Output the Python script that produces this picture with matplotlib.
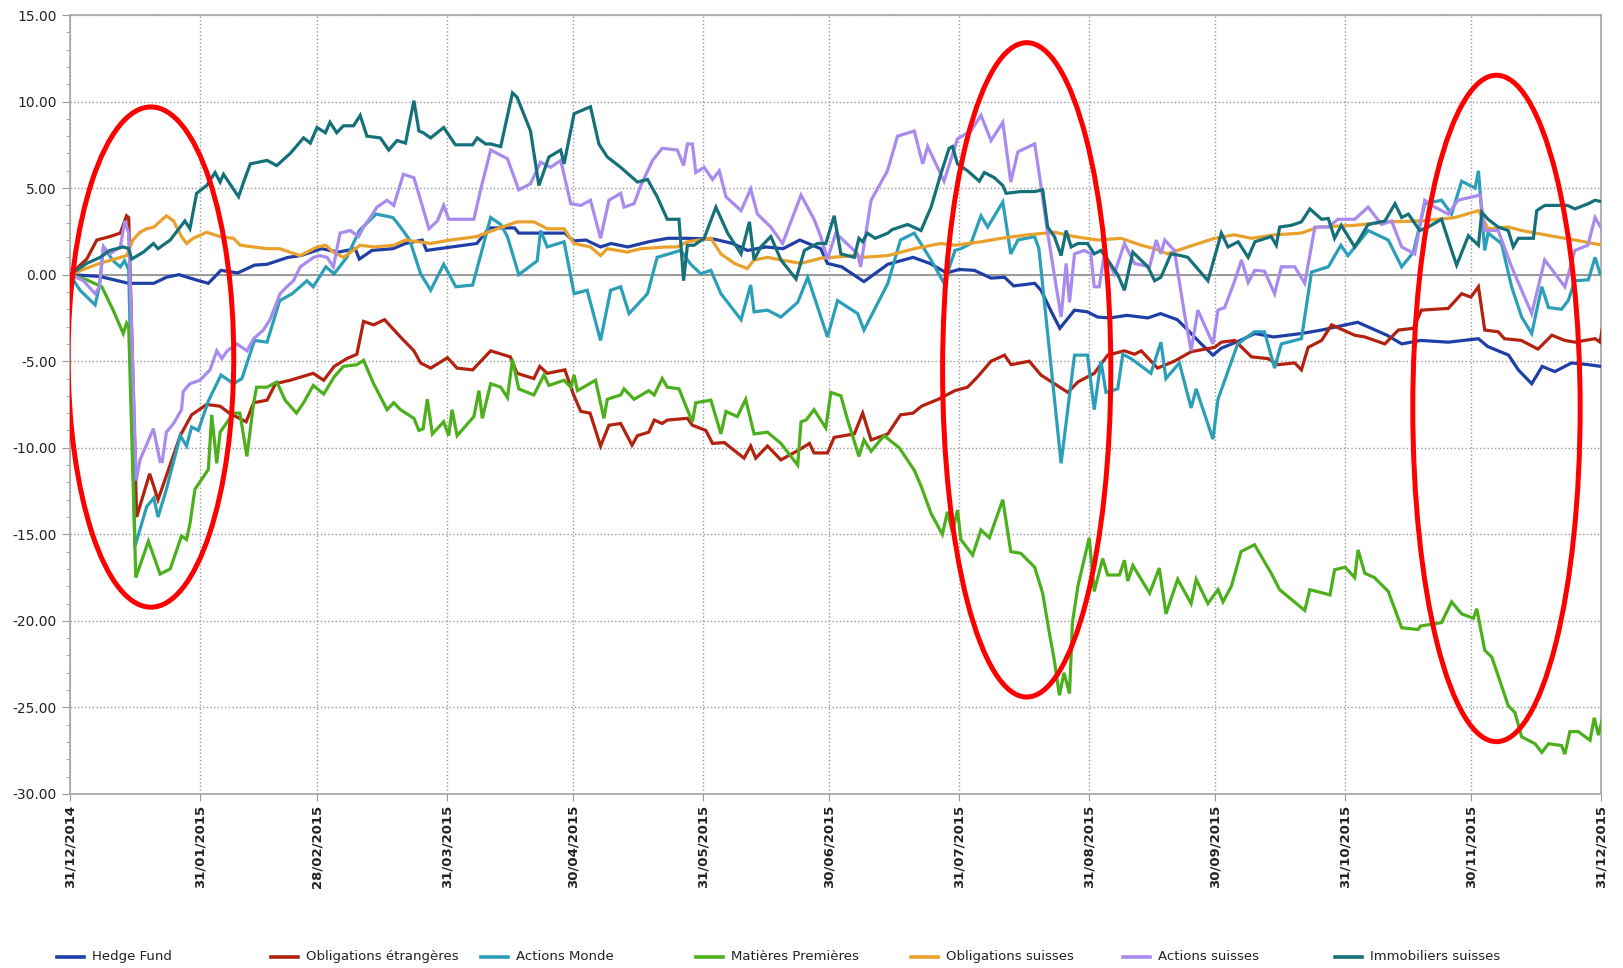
import datetime
import numpy as np
import matplotlib
matplotlib.use("Agg")
import matplotlib.pyplot as plt
import matplotlib.dates as mdates
from matplotlib.patches import Ellipse
from matplotlib.lines import Line2D
from matplotlib.ticker import MultipleLocator, FormatStrFormatter

# days are counted from 31/12/2014
hf_days = [0, 7, 14, 20, 23, 26, 30, 33, 36, 40, 44, 47, 52, 55, 60, 64, 68, 69, 72, 77, 80, 84, 85, 91, 97, 100, 106, 107, 118, 120, 123, 126.5, 129, 133, 138, 142.5, 147, 153.6, 158, 161.5, 166, 170, 174, 179, 180.6, 184, 189.3, 195, 201, 205, 209, 212, 215.6, 219.6, 222.8, 225, 230, 231.5, 234, 236, 239.5, 242.6, 245, 248, 252, 257, 260, 264, 266.5, 269.7, 272.5, 274.5, 279, 282.5, 287, 293.6, 298.4, 307, 314, 317.5, 322, 328.6, 335.8, 338, 343, 345.3, 348.5, 351, 354, 358, 362, 365]
hf_vals = [0, -0.1, -0.5, -0.5, -0.15, 0.0, -0.3, -0.5, 0.25, 0.1, 0.55, 0.6, 1.0, 1.1, 1.5, 1.3, 1.5, 0.9, 1.4, 1.5, 1.8, 2.0, 1.4, 1.6, 1.8, 2.7, 2.7, 2.4, 2.4, 1.95, 2.0, 1.6, 1.8, 1.6, 1.9, 2.1, 2.1, 2.05, 1.8, 1.4, 1.6, 1.5, 2.0, 1.5, 0.65, 0.45, -0.4, 0.6, 1.0, 0.65, 0.1, 0.3, 0.25, -0.2, -0.15, -0.65, -0.5, -0.9, -2.15, -3.1, -2.05, -2.15, -2.45, -2.5, -2.35, -2.5, -2.25, -2.6, -3.2, -4.0, -4.65, -4.25, -3.8, -3.4, -3.6, -3.4, -3.2, -2.75, -3.5, -4.0, -3.8, -3.9, -3.7, -4.15, -4.65, -5.5, -6.3, -5.3, -5.6, -5.1, -5.2, -5.3]

oe_days = [0, 4, 6.4, 9.5, 12, 13.5, 14, 15.9, 19, 21, 26.3, 29, 32.6, 35.8, 38, 42, 43.8, 47, 49, 52.5, 58, 60.5, 63, 66, 68.4, 70, 72.4, 75, 78.8, 82, 83.6, 86, 90, 92.3, 96, 100.3, 105, 106.6, 110.6, 112, 113.8, 118, 120, 121.8, 124, 126.5, 128.5, 131.3, 134, 135.3, 138, 139.3, 141.2, 142.4, 147.2, 148.4, 151.6, 153.2, 156, 160.7, 162.3, 163.5, 166.3, 169.5, 174, 176.3, 177.4, 180.6, 182.2, 187, 189, 191, 195, 198, 201, 203, 207, 211, 214, 216.4, 219.6, 222.8, 224.4, 228.7, 231.5, 237.9, 240.3, 244.2, 247.4, 251.4, 253.8, 255.4, 259.3, 263.3, 267.3, 272.9, 274.5, 277.7, 281.7, 285.6, 288, 292, 293.6, 295.2, 298.4, 300.8, 306.3, 308.7, 313.5, 316.7, 320.3, 322.2, 328.6, 331.8, 334, 335.8, 337.3, 340.5, 342, 346, 350, 353.3, 356.4, 358.8, 363.6, 364.8, 365.4]
oe_vals = [0, 0.9, 2.0, 2.2, 2.4, 3.4, 3.3, -14.0, -11.5, -13.0, -9.3, -8.1, -7.5, -7.6, -8.0, -8.5, -7.4, -7.25, -6.3, -6.1, -5.7, -6.1, -5.3, -4.85, -4.6, -2.7, -2.9, -2.6, -3.6, -4.4, -5.1, -5.4, -4.8, -5.4, -5.5, -4.4, -4.75, -5.7, -6.0, -5.3, -5.7, -5.5, -6.9, -7.9, -8.0, -9.9, -8.7, -8.6, -9.85, -9.3, -9.1, -8.4, -8.6, -8.4, -8.3, -8.7, -9.0, -9.75, -9.7, -10.6, -9.9, -10.6, -9.9, -10.7, -10.1, -9.75, -10.3, -10.3, -9.4, -9.2, -8.0, -9.55, -9.2, -8.1, -8.0, -7.6, -7.2, -6.7, -6.5, -5.9, -5.0, -4.65, -5.2, -5.0, -5.8, -6.8, -6.2, -5.7, -4.65, -4.4, -4.6, -4.4, -5.4, -5.0, -4.45, -4.2, -3.9, -3.8, -4.75, -4.85, -5.2, -5.1, -5.5, -4.2, -3.8, -2.9, -3.5, -3.6, -4.0, -3.2, -3.1, -2.05, -1.95, -1.1, -1.3, -0.7, -3.2, -3.3, -3.7, -3.8, -4.3, -3.5, -3.8, -3.9, -3.7, -3.9, -3.0]

am_days = [0, 2.4, 6, 7, 8, 10.3, 12, 13, 14, 15.5, 18.3, 20, 21, 23, 26.3, 27.8, 29, 30.6, 33, 36, 39, 41, 44, 47, 50, 53, 56.5, 58, 61, 63, 66, 69, 73, 77, 78.8, 81, 83.6, 86, 89.1, 92, 96, 98, 100.3, 102.7, 104.3, 107, 111.4, 112.2, 113.8, 117.8, 120.2, 123.3, 126.5, 128.9, 131.3, 133.3, 137.7, 140, 145.6, 148, 150.4, 152.8, 155.2, 160, 162.3, 163.1, 166.3, 169.5, 173.5, 175.9, 180.6, 183, 187.8, 189.3, 195, 198, 201.3, 205.3, 208.4, 211, 212.4, 214.8, 217.2, 218.8, 222.4, 224.3, 226, 230, 231, 236.3, 239.5, 242.6, 244.2, 245.8, 247, 249.8, 251, 253, 257.7, 260.1, 261.3, 264.5, 267.3, 268.5, 272.5, 273.7, 278.4, 282.4, 284.8, 287.2, 288.8, 293.6, 296, 300, 303, 304.7, 309.5, 314.3, 317.5, 320.3, 323, 327, 329.4, 331.8, 335, 335.8, 337.3, 338.1, 341.3, 343.7, 346.1, 348.5, 350.9, 352.5, 355.6, 357.2, 358.8, 362, 363.6, 364.8, 365.4]
am_vals = [0, -0.9, -1.75, -0.7, 1.6, 0.8, 0.45, 0.8, 0.3, -15.7, -13.4, -12.9, -14.0, -12.4, -9.3, -9.9, -8.8, -9.0, -7.3, -5.8, -6.3, -6.0, -3.8, -3.9, -1.5, -1.1, -0.35, -0.7, 0.45, 0.05, 1.0, 2.55, 3.5, 3.3, 2.75, 2.0, 0.05, -0.9, 0.6, -0.7, -0.6, 1.2, 3.3, 2.9, 2.2, 0.0, 0.8, 2.55, 1.6, 1.9, -1.1, -0.9, -3.8, -0.9, -0.7, -2.25, -1.1, 1.0, 1.4, 0.6, 0.05, 0.25, -1.1, -2.6, -0.6, -2.15, -2.05, -2.45, -1.6, -0.15, -3.6, -1.5, -2.25, -3.2, -0.5, 2.0, 2.4, 0.85, -0.5, 1.4, 1.5, 1.8, 3.4, 2.75, 4.2, 1.2, 2.0, 2.2, 1.5, -10.9, -4.65, -4.65, -7.8, -5.0, -6.8, -6.6, -4.6, -4.85, -5.7, -3.9, -6.0, -5.1, -7.7, -6.6, -9.5, -7.2, -4.0, -3.3, -3.3, -5.4, -4.0, -3.7, 0.15, 0.45, 1.7, 1.1, 2.55, 2.0, 0.45, 1.3, 4.1, 4.3, 3.5, 5.4, 5.0, 6.0, 1.4, 2.4, 1.8, -0.7, -2.45, -3.4, -0.7, -1.9, -2.0, -1.5, -0.35, -0.3, 1.0, 0.05, 0.05]

mp_days = [0, 4, 7.6, 10.3, 12.7, 13.5, 14, 15.7, 18.7, 21.5, 23.9, 26.6, 27.8, 28.6, 29.8, 33, 33.8, 35, 35.8, 39, 40.5, 42.2, 43.8, 44.5, 47, 49.3, 51.3, 54, 55.7, 58, 60.5, 63, 65.2, 68.4, 70, 72.4, 75.6, 77.2, 78.8, 82, 83.2, 84.2, 85.2, 86.4, 89.1, 90.3, 91.1, 92.3, 96.3, 97.5, 98.3, 100.3, 102.7, 104.3, 105.5, 107, 110.6, 113, 114.2, 117.8, 119.4, 120.2, 121, 125.3, 127.3, 128.1, 131.3, 132.1, 134.5, 138, 139.3, 141.2, 142.4, 145.2, 147.2, 148.4, 149.2, 152.8, 155.2, 156.4, 159.1, 161.1, 163.1, 166.3, 169.5, 173.5, 174.3, 175.5, 177.4, 180.2, 181.4, 183.8, 185.4, 188.1, 189.3, 191, 194.1, 197.7, 201.3, 202.9, 205.3, 208, 209.2, 210.4, 211.6, 212.4, 215.2, 217.2, 219.2, 222.4, 224.3, 226.7, 230, 231.9, 233.5, 234.7, 235.9, 237, 238.3, 239, 240.3, 243, 244.2, 246.2, 247.4, 250.2, 251.4, 252.2, 253.4, 257.4, 259.7, 261.3, 264.1, 267.3, 268.5, 271.3, 273.7, 274.9, 276.9, 279.2, 282.4, 286.4, 288.4, 294.4, 295.6, 300.4, 301.5, 304, 306.3, 307.1, 308.7, 311, 314.3, 317.5, 321.4, 322, 327, 329.4, 331.8, 334.6, 335.4, 337.3, 339, 342.9, 344.5, 346.1, 349.3, 350.9, 352.5, 355.6, 356.4, 357.6, 359.6, 362.4, 363.4, 364.4, 365.4]
mp_vals = [0, -0.3, -0.7, -2.05, -3.4, -2.8, -3.0, -17.5, -15.4, -17.3, -17.0, -15.1, -15.3, -14.4, -12.4, -11.25, -8.1, -10.9, -9.1, -8.0, -8.0, -10.5, -7.4, -6.5, -6.5, -6.2, -7.25, -8.0, -7.4, -6.4, -6.9, -5.9, -5.3, -5.2, -4.95, -6.3, -7.8, -7.4, -7.8, -8.3, -9.0, -8.9, -7.2, -9.2, -8.5, -9.3, -7.8, -9.3, -8.2, -6.7, -8.3, -6.3, -6.5, -7.1, -4.9, -6.6, -6.95, -5.8, -6.4, -6.1, -6.5, -5.8, -6.7, -6.1, -8.3, -7.2, -6.95, -6.6, -7.2, -6.7, -6.95, -6.0, -6.5, -6.6, -7.8, -8.5, -7.4, -7.25, -9.2, -7.9, -8.2, -7.2, -9.2, -9.1, -9.75, -11.0, -8.5, -8.4, -7.8, -8.85, -6.8, -7.0, -8.4, -10.5, -9.55, -10.2, -9.3, -10.0, -11.3, -12.2, -13.8, -15.0, -13.7, -14.9, -13.6, -15.3, -16.2, -14.75, -15.2, -13.0, -16.0, -16.1, -16.9, -18.4, -20.7, -22.3, -24.3, -23.0, -24.2, -20.1, -18.0, -15.2, -18.3, -16.4, -17.35, -17.35, -16.5, -17.7, -16.8, -18.4, -16.95, -19.6, -17.6, -19.0, -17.6, -19.0, -18.2, -18.9, -18.0, -16.0, -15.6, -17.25, -18.2, -19.4, -18.2, -18.5, -17.05, -16.9, -17.5, -15.9, -17.25, -17.5, -18.3, -20.4, -20.5, -20.3, -20.1, -18.9, -19.6, -19.85, -19.3, -21.7, -22.1, -24.9, -25.3, -26.7, -27.1, -27.6, -27.1, -27.2, -27.7, -26.4, -26.4, -26.9, -25.6, -26.6, -25.6]

os_days = [0, 7, 10, 13.5, 15, 16.7, 18.3, 20, 23, 24.7, 26.6, 27.8, 29.4, 32.6, 35.8, 39, 40.6, 47, 50, 54.9, 58.9, 61, 62.8, 65.2, 69.2, 72.4, 77.2, 80, 86, 90.7, 97, 101.9, 106.6, 110.6, 113.8, 117.8, 120.2, 124.1, 126.5, 128.1, 132.9, 136.1, 142.4, 144.8, 147.2, 152.8, 155.2, 158.4, 161.5, 163.1, 166.3, 169.5, 174.3, 179, 187, 189, 195, 201.3, 207.6, 211, 217.2, 222, 228.3, 234.7, 239.5, 245, 250.6, 255.4, 258.6, 261.7, 266.5, 272.9, 277.6, 281.7, 287.2, 293.6, 297.6, 306.3, 314.3, 322.2, 330.2, 335.8, 338.1, 342.9, 346.1, 354, 358.8, 365.4]
os_vals = [0, 0.65, 0.85, 1.1, 2.0, 2.45, 2.65, 2.75, 3.4, 3.1, 2.2, 1.8, 2.1, 2.45, 2.2, 2.1, 1.7, 1.5, 1.5, 1.1, 1.6, 1.7, 1.3, 1.0, 1.7, 1.6, 1.7, 2.0, 1.8, 2.0, 2.2, 2.65, 3.05, 3.05, 2.65, 2.65, 1.8, 1.6, 1.1, 1.5, 1.3, 1.5, 1.6, 1.6, 1.9, 2.1, 1.2, 0.65, 0.35, 0.85, 1.0, 0.85, 0.65, 0.95, 1.1, 1.0, 1.1, 1.5, 1.8, 1.7, 1.9, 2.1, 2.3, 2.45, 2.2, 2.0, 2.1, 1.7, 1.5, 1.2, 1.6, 2.1, 2.3, 2.1, 2.3, 2.4, 2.75, 2.85, 3.05, 3.1, 3.3, 3.7, 2.65, 2.75, 2.55, 2.2, 2.0, 1.7]

as_days = [0, 3.2, 6, 7, 8, 9.5, 12, 13.1, 14, 15.8, 16.7, 19.9, 21.5, 22, 23, 24.7, 26.6, 27, 28.6, 31, 33.4, 35, 36.2, 37.5, 39.8, 42.2, 43.8, 46.1, 47.7, 50.1, 51.7, 53.3, 54.9, 58.1, 59.5, 61.3, 62.8, 64.4, 66.8, 68.8, 70, 71.6, 73.2, 75.6, 77.2, 79.5, 82, 83.6, 85.6, 87.6, 89.1, 90.3, 96.3, 97.9, 100.3, 104.3, 107, 109.8, 112.2, 114.6, 117, 119.4, 121.8, 124.1, 126.5, 128.5, 131.3, 132.1, 134.5, 136.1, 138.9, 141.2, 144.8, 146.3, 147.2, 148.4, 149.2, 151.2, 153.2, 154.8, 156.4, 160, 162.3, 163.9, 167.1, 169.9, 174.3, 177.4, 179, 180.6, 182.6, 187.8, 188.5, 191, 194.9, 197.3, 201.3, 203.3, 204.5, 208.4, 211.6, 214.8, 217.2, 219.6, 222.4, 224.3, 226, 230, 231.1, 233.1, 236.3, 237.5, 238.3, 239.5, 241.8, 243.4, 244.2, 245.4, 246.6, 249, 251.4, 253.8, 257.4, 259, 260.1, 261, 263.3, 265.7, 267.3, 268.9, 272.5, 273.7, 275.3, 277.7, 279.3, 280.9, 282.5, 284.8, 287.2, 288.8, 292, 294.4, 296.8, 300, 302.3, 306.3, 309.5, 312.7, 315.1, 317.5, 320.6, 323, 325.4, 328.6, 330.9, 336.2, 337.3, 340.5, 343.7, 348.5, 351.6, 356.4, 358.8, 361.9, 363.6, 365.4]
as_vals = [0, -0.35, -1.1, -0.7, 1.6, 1.2, 1.6, 3.1, 2.4, -11.9, -10.7, -8.9, -10.8, -10.8, -9.1, -8.6, -7.8, -6.75, -6.3, -6.1, -5.5, -4.4, -4.85, -4.4, -4.0, -4.4, -3.7, -3.2, -2.6, -1.1, -0.7, -0.35, 0.45, 1.0, 1.1, 1.0, 0.45, 2.4, 2.55, 2.2, 2.75, 3.3, 3.9, 4.3, 4.0, 5.8, 5.6, 4.3, 2.65, 3.1, 4.0, 3.2, 3.2, 4.9, 7.2, 6.7, 4.9, 5.25, 6.5, 6.2, 6.6, 4.1, 4.0, 4.3, 2.1, 4.3, 4.7, 3.9, 4.1, 5.15, 6.6, 7.3, 7.2, 6.3, 7.55, 7.55, 5.9, 6.2, 5.5, 6.0, 4.5, 3.7, 4.95, 3.5, 2.75, 1.8, 4.6, 3.2, 2.2, 0.9, 2.4, 1.2, 0.45, 4.3, 6.0, 8.0, 8.3, 6.4, 7.4, 5.4, 7.85, 8.3, 9.2, 7.75, 8.8, 5.35, 7.1, 7.55, 5.8, 2.4, -2.45, 0.65, -1.6, 1.2, 1.4, 1.2, -0.7, -0.7, 1.2, 0.05, 1.8, 0.65, 0.45, 2.0, 1.2, 2.0, 1.4, -2.25, -4.4, -2.05, -4.0, -2.05, -1.9, -0.35, 0.85, -0.45, 0.25, 0.2, -1.1, 0.45, 0.45, -0.5, 2.75, 2.75, 3.2, 3.2, 3.9, 2.9, 3.1, 1.6, 1.2, 4.3, 3.9, 3.5, 4.3, 4.6, 2.55, 2.55, 0.45, -2.25, 0.85, -0.7, 1.4, 1.7, 3.3, 2.55]

is_days = [0, 4, 7.2, 9.5, 12.7, 14, 14.7, 17.5, 19.9, 21, 23.9, 26.3, 27.4, 28.6, 30.2, 32.6, 34.6, 35.8, 36.6, 40.2, 41.4, 43, 47, 49.3, 52.5, 55.7, 57.3, 58.9, 60.9, 62, 63.6, 65.2, 67.6, 69.2, 70.8, 74, 76, 78, 80, 82, 83.2, 84.2, 86, 89.1, 91.9, 96, 97.1, 99.1, 100.3, 102.7, 105.5, 106.6, 109.8, 111.8, 114.2, 117, 117.8, 120.2, 124.1, 126.1, 128.1, 131.3, 135.3, 137.7, 140, 142.4, 145.2, 146.3, 147.2, 148.8, 151.2, 154, 156.8, 160, 162, 163.1, 164.7, 167.1, 169.5, 173.1, 175.1, 178.2, 180.2, 182.2, 183.8, 187, 188.1, 189, 190.1, 192, 195, 196, 199.7, 202.9, 205.3, 207.6, 209.6, 210.4, 211.6, 214, 216.8, 218, 220.4, 222.4, 223.2, 226.7, 230, 231.9, 233.1, 234.7, 236.3, 237.5, 238.7, 240.3, 242.6, 244.2, 245.8, 247.4, 249.8, 251.4, 253.4, 257, 258.6, 260.1, 262.5, 264.9, 266.5, 271.3, 274.5, 276.1, 278.5, 280.9, 282.5, 286.4, 287.6, 288.4, 291.2, 293.6, 295.6, 298.4, 300, 301.5, 303.1, 306.3, 309.5, 313.5, 315.9, 317.5, 319.1, 321.8, 323.8, 327, 329.4, 330.6, 333.4, 335.8, 336.6, 338.1, 340.5, 342.9, 344.1, 345.3, 348.9, 349.7, 351.6, 357, 358.8, 362, 363.6, 365.4]
is_vals = [0, 0.65, 1.0, 1.4, 1.6, 1.5, 0.9, 1.3, 1.8, 1.5, 2.0, 2.75, 3.1, 2.65, 4.7, 5.15, 5.9, 5.35, 5.8, 4.5, 5.35, 6.4, 6.6, 6.3, 7.0, 7.9, 7.6, 8.5, 8.2, 8.8, 8.2, 8.6, 8.6, 9.2, 8.0, 7.9, 7.2, 7.75, 7.6, 10.05, 8.3, 8.2, 7.9, 8.5, 7.5, 7.5, 7.9, 7.55, 7.55, 7.4, 10.5, 10.25, 8.3, 5.15, 6.8, 7.2, 6.4, 9.3, 9.7, 7.55, 6.8, 6.2, 5.35, 5.5, 4.5, 3.2, 3.2, -0.35, 1.7, 1.7, 2.1, 3.9, 2.4, 1.2, 3.05, 0.85, 1.6, 2.2, 0.85, -0.25, 1.4, 1.8, 1.8, 3.4, 1.2, 1.0, 2.1, 1.9, 2.4, 2.1, 2.4, 2.6, 2.9, 2.55, 3.9, 5.8, 7.3, 7.4, 6.4, 6.0, 5.4, 5.9, 5.6, 5.15, 4.7, 4.8, 4.8, 4.9, 2.75, 2.2, 1.1, 2.55, 1.6, 1.8, 1.8, 1.2, 1.4, 0.85, 0.0, -0.9, 1.3, 0.45, -0.35, -0.15, 1.2, 1.1, 1.0, -0.35, 2.4, 1.6, 1.9, 1.0, 1.9, 2.2, 1.7, 2.75, 2.85, 3.05, 3.8, 3.2, 3.25, 2.1, 2.85, 1.6, 2.9, 3.1, 4.1, 3.3, 3.5, 2.55, 2.75, 3.2, 1.4, 0.55, 2.25, 1.7, 3.6, 3.2, 2.75, 2.55, 1.6, 2.1, 2.1, 3.7, 4.0, 4.0, 3.8, 4.1, 4.3, 4.2]

names = ["Hedge Fund", "Obligations étrangères", "Actions Monde", "Matières Premières",
         "Obligations suisses", "Actions suisses", "Immobiliers suisses"]
colors = ["#1f3fa6", "#b3220f", "#2b9fb8", "#4caf1c", "#e9a12c", "#a98bee", "#16707a"]
series = [(hf_days, hf_vals), (oe_days, oe_vals), (am_days, am_vals), (mp_days, mp_vals),
          (os_days, os_vals), (as_days, as_vals), (is_days, is_vals)]

tick_dates = ["31/12/2014", "31/01/2015", "28/02/2015", "31/03/2015", "30/04/2015", "31/05/2015",
              "30/06/2015", "31/07/2015", "31/08/2015", "30/09/2015", "31/10/2015", "30/11/2015",
              "31/12/2015"]

# (center day, center value, width in days, height in value units)
circles = [(19.3, -4.76, 39.5, 28.9), (228.1, -5.5, 40.1, 37.8), (340.1, -7.73, 39.9, 38.5)]

base = mdates.date2num(datetime.date(2014, 12, 31))

fig = plt.figure(figsize=(16.23, 9.68), dpi=100)
ax = fig.add_axes([0.0431, 0.1798, 0.9433, 0.8047])

for (d, v), c in zip(series, colors):
    ax.plot(base + np.array(d), v, color=c, lw=2.3, solid_joinstyle="miter", zorder=3)

for cx, cy, w, h in circles:
    ax.add_patch(Ellipse((base + cx, cy), w, h, fill=False, edgecolor="#ff0000", lw=3.6, zorder=5))

ticks = [mdates.date2num(datetime.datetime.strptime(t, "%d/%m/%Y")) for t in tick_dates]
ax.set_xlim(ticks[0], ticks[-1])
ax.set_ylim(-30, 15)
ax.set_xticks(ticks)
ax.set_xticklabels(tick_dates, rotation=90, fontsize=9.5, fontweight="bold", color="#222222")
ax.yaxis.set_major_locator(MultipleLocator(5))
ax.yaxis.set_minor_locator(MultipleLocator(1))
ax.yaxis.set_major_formatter(FormatStrFormatter("%.2f"))
ax.tick_params(axis="y", labelsize=10, colors="#222222", length=6, color="#999999")
ax.tick_params(axis="y", which="minor", length=3, color="#999999")
ax.tick_params(axis="x", length=5, color="#999999", pad=3)

ax.grid(True, which="major", linestyle=":", color="#9a9a9a", lw=1.0, zorder=0)
ax.axhline(0, color="#8a8a8a", lw=1.2, zorder=1)
for s in ax.spines.values():
    s.set_color("#aaaaaa")
    s.set_linewidth(1.3)

# legend in one row along the bottom
leg_x = [57, 271, 481, 696, 911, 1123, 1335]
for x0, name, c in zip(leg_x, names, colors):
    fx = x0 / 1623
    fig.add_artist(Line2D([fx, fx + 27 / 1623], [0.0115, 0.0115], transform=fig.transFigure,
                          color=c, lw=2.6))
    fig.text(fx + 35 / 1623, 0.0115, name, fontsize=9.5, va="center", ha="left", color="#222222")

fig.savefig("out.png", dpi=100)
